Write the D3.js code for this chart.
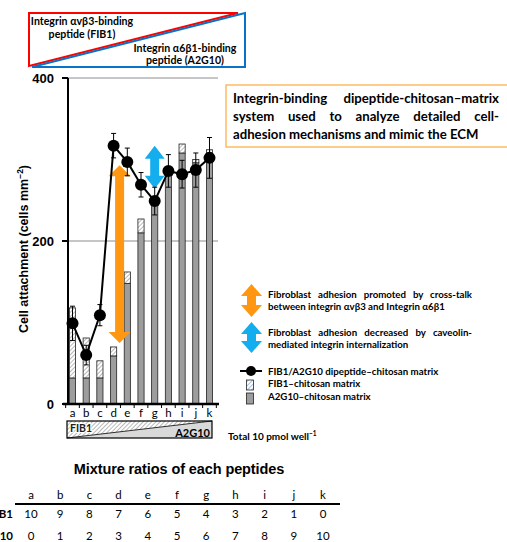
<!DOCTYPE html>
<html>
<head>
<meta charset="utf-8">
<script src="https://cdn.jsdelivr.net/npm/d3@7"></script>
<style>
body{margin:0;background:#fff}
svg{display:block}
</style>
</head>
<body>
<div id="chart"></div>
<script>

// data

var categories = ["a","b","c","d","e","f","g","h","i","j","k"];
var fib1Ratio = [10,9,8,7,6,5,4,3,2,1,0];
var a2g10Ratio = [0,1,2,3,4,5,6,7,8,9,10];

// dipeptide matrix (line + points)
var dipeptide = [99,60,109,317,297,269,249,286,282,287,302];
var dipeptideErr = [21,12,13,15,17,15,17,20,17,21,25];

// bars: gray part (A2G10) and hatched part (FIB1) on top
var a2g10Bar = [32,32,32,59,148,210,245,287,308,296,308];
var fib1Bar = [86,49,21,11,14,17,5,0,11,4,4];

var yTicks = [0,200,400];

// annotation arrows: category and value range
var promotedArrow = {cat:"d", from:75, to:293};
var decreasedArrow = {cat:"g", from:264, to:317};

var W = 507, H = 542;
var calibri = "Lato, 'Open Sans', sans-serif";
var arial = "'Liberation Sans', Arial, sans-serif";
var orange = "#FF9712", blue = "#14AEEF";

var svg = d3.select("#chart").append("svg")
    .attr("width", W)
    .attr("height", H);

var defs = svg.append("defs");
var hatch = defs.append("pattern")
    .attr("id","hatch")
    .attr("patternUnits","userSpaceOnUse")
    .attr("width",3).attr("height",3)
    .attr("patternTransform","rotate(45)");
hatch.append("rect").attr("width",3).attr("height",3).attr("fill","#fff");
hatch.append("line").attr("x1",0).attr("y1",0).attr("x2",0).attr("y2",3)
    .attr("stroke","#8a8a8a").attr("stroke-width",1.2);

var hatchBlue = defs.append("pattern")
    .attr("id","hatchBlue")
    .attr("patternUnits","userSpaceOnUse")
    .attr("width",3).attr("height",3)
    .attr("patternTransform","rotate(45)");
hatchBlue.append("rect").attr("width",3).attr("height",3).attr("fill","#fff");
hatchBlue.append("line").attr("x1",0).attr("y1",0).attr("x2",0).attr("y2",3)
    .attr("stroke","#7f9fc8").attr("stroke-width",1.3);

// word-justified text line (spreads words, not letters)
function justifyLine(sel, words, x0, width){
    var spans = words.map(function(w){ return sel.append("tspan").text(w); });
    var lens = spans.map(function(s){ return s.node().getComputedTextLength(); });
    var total = d3.sum(lens);
    var gap = words.length>1 ? (width-total)/(words.length-1) : 0;
    var cx = x0;
    spans.forEach(function(s,i){ s.attr("x",cx); cx += lens[i]+gap; });
}

// scales

var x = d3.scaleBand().domain(categories).range([66,216]).paddingInner(0.55).paddingOuter(0.25);
var y = d3.scaleLinear().domain([0,400]).range([404,78]);
var xc = function(c){ return x(c) + x.bandwidth()/2; };

// gridlines

svg.append("g").selectAll("line")
    .data(yTicks.filter(function(d){return d>0;}))
    .enter().append("line")
    .attr("x1",68).attr("x2",218)
    .attr("y1",function(d){return y(d);}).attr("y2",function(d){return y(d);})
    .attr("stroke","#b3b3b3").attr("stroke-width",1.3);

// bars

var bars = svg.append("g").selectAll("g")
    .data(categories).enter().append("g");

bars.append("rect")
    .attr("x",function(d){return x(d);})
    .attr("width",x.bandwidth())
    .attr("y",function(d,i){return y(a2g10Bar[i]);})
    .attr("height",function(d,i){return y(0)-y(a2g10Bar[i]);})
    .attr("fill","#9d9d9d").attr("stroke","#222").attr("stroke-width",0.8);

bars.filter(function(d,i){return fib1Bar[i]>0;}).append("rect")
    .attr("x",function(d){return x(d);})
    .attr("width",x.bandwidth())
    .attr("y",function(d){var i=categories.indexOf(d); return y(a2g10Bar[i]+fib1Bar[i]);})
    .attr("height",function(d){var i=categories.indexOf(d); return y(a2g10Bar[i])-y(a2g10Bar[i]+fib1Bar[i]);})
    .attr("fill","url(#hatch)").attr("stroke","#222").attr("stroke-width",0.8);

// double arrows

function doubleArrow(cx, yTop, yBot, headW, shaftW, headL){
    var p = d3.path();
    p.moveTo(cx, yTop);
    p.lineTo(cx+headW/2, yTop+headL);
    p.lineTo(cx+shaftW/2, yTop+headL);
    p.lineTo(cx+shaftW/2, yBot-headL);
    p.lineTo(cx+headW/2, yBot-headL);
    p.lineTo(cx, yBot);
    p.lineTo(cx-headW/2, yBot-headL);
    p.lineTo(cx-shaftW/2, yBot-headL);
    p.lineTo(cx-shaftW/2, yTop+headL);
    p.lineTo(cx-headW/2, yTop+headL);
    p.closePath();
    return p.toString();
}

svg.append("path")
    .attr("d",doubleArrow(xc(promotedArrow.cat)+6, y(promotedArrow.to), y(promotedArrow.from), 22, 9, 11))
    .attr("fill",orange);

// line + error bars + points

var line = d3.line()
    .x(function(d,i){return xc(categories[i]);})
    .y(function(d){return y(d);});

svg.append("path")
    .datum(dipeptide)
    .attr("d",line)
    .attr("fill","none").attr("stroke","#000").attr("stroke-width",2);

svg.append("path")
    .attr("d",doubleArrow(xc(decreasedArrow.cat), y(decreasedArrow.to), y(decreasedArrow.from), 20, 9, 13))
    .attr("fill",blue);

var err = svg.append("g").selectAll("g")
    .data(categories).enter().append("g")
    .attr("stroke","#000").attr("stroke-width",1);
err.append("line")
    .attr("x1",xc).attr("x2",xc)
    .attr("y1",function(d,i){return y(dipeptide[i]+dipeptideErr[i]);})
    .attr("y2",function(d,i){return y(dipeptide[i]-dipeptideErr[i]);});
err.append("line")
    .attr("x1",function(d){return xc(d)-2.5;}).attr("x2",function(d){return xc(d)+2.5;})
    .attr("y1",function(d,i){return y(dipeptide[i]+dipeptideErr[i]);})
    .attr("y2",function(d,i){return y(dipeptide[i]+dipeptideErr[i]);});
err.append("line")
    .attr("x1",function(d){return xc(d)-2.5;}).attr("x2",function(d){return xc(d)+2.5;})
    .attr("y1",function(d,i){return y(dipeptide[i]-dipeptideErr[i]);})
    .attr("y2",function(d,i){return y(dipeptide[i]-dipeptideErr[i]);});

svg.append("g").selectAll("circle")
    .data(dipeptide).enter().append("circle")
    .attr("cx",function(d,i){return xc(categories[i]);})
    .attr("cy",function(d){return y(d);})
    .attr("r",6).attr("fill","#000");

// axes

svg.append("line").attr("x1",68).attr("x2",68).attr("y1",y(400)).attr("y2",y(0)+1)
    .attr("stroke","#000").attr("stroke-width",2);
svg.append("g").selectAll("line").data(yTicks).enter().append("line")
    .attr("x1",62).attr("x2",68)
    .attr("y1",function(d){return y(d);}).attr("y2",function(d){return y(d);})
    .attr("stroke","#000").attr("stroke-width",2);
svg.append("g").selectAll("text").data(yTicks).enter().append("text")
    .attr("x",54).attr("y",function(d){return y(d);}).attr("dy","0.36em")
    .attr("text-anchor","end")
    .attr("font-family",arial).attr("font-weight","bold").attr("font-size",13)
    .text(function(d){return d;});

svg.append("line").attr("x1",63).attr("x2",219).attr("y1",y(0)).attr("y2",y(0))
    .attr("stroke","#000").attr("stroke-width",2.5);
var bounds = d3.range(categories.length+1).map(function(i){return 66 - x.step()*0.025 + i*x.step();});
svg.append("g").selectAll("line").data(bounds).enter().append("line")
    .attr("x1",function(d){return d;}).attr("x2",function(d){return d;})
    .attr("y1",y(0)).attr("y2",y(0)+4)
    .attr("stroke","#000").attr("stroke-width",1);
svg.append("g").selectAll("text").data(categories).enter().append("text")
    .attr("x",xc).attr("y",417)
    .attr("text-anchor","middle")
    .attr("font-family",calibri).attr("font-size",11.5)
    .text(function(d){return d;});

var yTitle = svg.append("text")
    .attr("transform","translate(28,249) rotate(-90)")
    .attr("text-anchor","middle")
    .attr("font-family",arial).attr("font-weight","bold").attr("font-size",12.5);
yTitle.append("tspan").text("Cell attachment (cells mm");
yTitle.append("tspan").attr("dy",-5).attr("font-size",8.5).text("−2");
yTitle.append("tspan").attr("dy",5).text(")");

// peptide ratio triangle under the axis

var rb = svg.append("g");
rb.append("polygon").attr("points","67,421 212,421 67,438").attr("fill","url(#hatch)");
rb.append("polygon").attr("points","67,438 212,421 212,438").attr("fill","#d9d9d9");
rb.append("line").attr("x1",67).attr("y1",438).attr("x2",212).attr("y2",421).attr("stroke","#000").attr("stroke-width",0.8);
rb.append("rect").attr("x",67).attr("y",421).attr("width",145).attr("height",17)
    .attr("fill","none").attr("stroke","#000").attr("stroke-width",1.2);
rb.append("text").attr("x",70).attr("y",431.5)
    .attr("font-family",calibri).attr("font-weight","bold").attr("font-size",10.5)
    .attr("fill","#222").attr("stroke","#fff").attr("stroke-width",2).attr("paint-order","stroke")
    .text("FIB1");
rb.append("text").attr("x",210).attr("y",436.5).attr("text-anchor","end")
    .attr("font-family",calibri).attr("font-weight","bold").attr("font-size",11)
    .text("A2G10");

var tot = svg.append("text").attr("x",228).attr("y",440)
    .attr("font-family",calibri).attr("font-weight","bold").attr("font-size",10);
tot.append("tspan").text("Total 10 pmol well");
tot.append("tspan").attr("dy",-4).attr("font-size",6.5).text("−1");

// top triangle legend

var tb = svg.append("g");
tb.append("polygon").attr("points","29,13 238,13 29,66")
    .attr("fill","none").attr("stroke","#f00").attr("stroke-width",2);
tb.append("polygon").attr("points","32,67 245,13 245,67")
    .attr("fill","none").attr("stroke","#0a72c4").attr("stroke-width",2);
var topTexts = [
    {t:"Integrin αvβ3-binding", x:82, y:25},
    {t:"peptide (FIB1)", x:82, y:38},
    {t:"Integrin α6β1-binding", x:185, y:52},
    {t:"peptide (A2G10)", x:185, y:64}
];
tb.selectAll("text").data(topTexts).enter().append("text")
    .attr("x",function(d){return d.x;}).attr("y",function(d){return d.y;})
    .attr("text-anchor","middle")
    .attr("font-family",calibri).attr("font-weight","bold").attr("font-size",10.6)
    .text(function(d){return d.t;});

// orange info box

svg.append("rect").attr("x",226).attr("y",85).attr("width",300).attr("height",62)
    .attr("fill","none").attr("stroke","#FFB04A").attr("stroke-width",1.3);
var boxLines = [
    {t:"Integrin-binding dipeptide-chitosan–matrix", y:103, just:true},
    {t:"system used to analyze detailed cell-", y:121, just:true},
    {t:"adhesion mechanisms and mimic the ECM", y:139, just:false}
];
svg.append("g").selectAll("text").data(boxLines).enter().append("text")
    .attr("x",233).attr("y",function(d){return d.y;})
    .attr("font-family",calibri).attr("font-weight","bold").attr("font-size",13.2)
    .each(function(d){
        var t = d3.select(this);
        if(d.just){ justifyLine(t, d.t.split(" "), 233, 266); } else { t.text(d.t); }
    });

// legend

var lg = svg.append("g");
lg.append("path").attr("d",doubleArrow(251.5,284,317,21,9,12)).attr("fill",orange);
lg.append("path").attr("d",doubleArrow(251.5,322,353,21,9,12)).attr("fill",blue);
var legLines = [
    {t:"Fibroblast adhesion promoted by cross-talk", y:298, just:true},
    {t:"between integrin αvβ3 and Integrin α6β1", y:310, just:false},
    {t:"Fibroblast adhesion decreased by caveolin-", y:336, just:true},
    {t:"mediated integrin internalization", y:348, just:false},
    {t:"FIB1/A2G10 dipeptide–chitosan matrix", y:375, just:false},
    {t:"FIB1–chitosan matrix", y:387, just:false},
    {t:"A2G10–chitosan matrix", y:400, just:false}
];
lg.selectAll("text").data(legLines).enter().append("text")
    .attr("x",268).attr("y",function(d){return d.y;})
    .attr("font-family",calibri).attr("font-weight","bold").attr("font-size",9.7)
    .each(function(d){
        var t = d3.select(this);
        if(d.just){ justifyLine(t, d.t.split(" "), 268, 204); } else { t.text(d.t); }
    });
lg.append("line").attr("x1",240).attr("x2",262).attr("y1",371).attr("y2",371)
    .attr("stroke","#000").attr("stroke-width",2);
lg.append("circle").attr("cx",251).attr("cy",371).attr("r",5).attr("fill","#000");
lg.append("rect").attr("x",246.5).attr("y",380).attr("width",7).attr("height",10)
    .attr("fill","url(#hatchBlue)").attr("stroke","#222").attr("stroke-width",0.8);
lg.append("rect").attr("x",246.5).attr("y",393).attr("width",7).attr("height",11)
    .attr("fill","#9d9d9d").attr("stroke","#222").attr("stroke-width",0.8);

// mixture ratio table

svg.append("text").attr("x",179).attr("y",474).attr("text-anchor","middle")
    .attr("font-family",arial).attr("font-weight","bold").attr("font-size",14.5)
    .attr("letter-spacing",-0.1)
    .text("Mixture ratios of each peptides");

var tx = d3.scalePoint().domain(categories).range([31,323]);
var tbl = svg.append("g").attr("font-family",calibri).attr("font-size",11.5).attr("text-anchor","middle");
tbl.selectAll(".hd").data(categories).enter().append("text").attr("class","hd")
    .attr("x",tx).attr("y",499).text(function(d){return d;});
tbl.selectAll(".r1").data(fib1Ratio).enter().append("text").attr("class","r1")
    .attr("x",function(d,i){return tx(categories[i]);}).attr("y",518).text(function(d){return d;});
tbl.selectAll(".r2").data(a2g10Ratio).enter().append("text").attr("class","r2")
    .attr("x",function(d,i){return tx(categories[i]);}).attr("y",540).text(function(d){return d;});
svg.append("line").attr("x1",15).attr("x2",340).attr("y1",504).attr("y2",504)
    .attr("stroke","#000").attr("stroke-width",2);
// row labels run off the left edge, as in the source image
var rowLabels = [{t:"FIB1", y:518}, {t:"A2G10", y:540}];
svg.append("g").selectAll("text").data(rowLabels).enter().append("text")
    .attr("x",13).attr("y",function(d){return d.y;}).attr("text-anchor","end")
    .attr("font-family",calibri).attr("font-weight","bold").attr("font-size",11.5)
    .text(function(d){return d.t;});

</script>
</body>
</html>
